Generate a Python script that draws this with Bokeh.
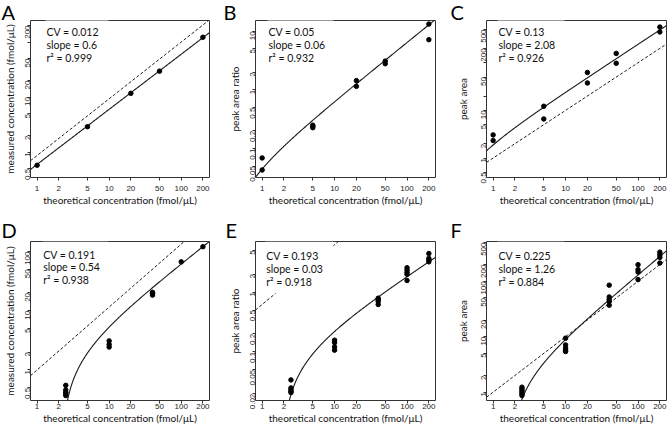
import numpy as np
from bokeh.plotting import figure
from bokeh.models import FixedTicker, Label, BoxAnnotation, Range1d
from bokeh.layouts import column, row
from bokeh.embed import file_html
from bokeh.resources import INLINE

# ---------------- data ----------------
x_ticks = [1, 2, 5, 10, 20, 50, 100, 200]
x_tick_labels = ["1", "2", "5", "10", "20", "50", "100", "200"]
x_lim = (0.81, 247)
x_title = "theoretical concentration (fmol/μL)"

# Panel A
a_x = [1, 5, 20, 50, 200]
a_y = [0.58, 2.9, 11.7, 29.6, 122]
a_ylim = (0.347, 246)
a_yticks = [0.5, 1, 2, 5, 10, 20, 50, 100, 200]
a_yticklabels = ["0.5", "1", "2", "5", "10", "20", "50", "", "200"]
a_ylabel = "measured concentration (fmol/μL)"
a_stats = ["CV = 0.012", "slope = 0.6", "r² = 0.999"]
a_fit = (0.6, 1.0, 0.0)        # scale, exponent, x where fit reaches zero
a_ref = (0.87, 1.03)           # dashed reference line: scale, exponent

# Panel B
b_x = [1, 1, 5, 5, 5, 20, 20, 50, 50, 200, 200]
b_y = [0.069, 0.043, 0.25, 0.24, 0.227, 1.44, 1.15, 3.1, 2.8, 13.3, 7.2]
b_ylim = (0.032, 15.3)
b_yticks = [0.05, 0.1, 0.2, 0.5, 1, 2, 5, 10]
b_yticklabels = ["0.05", "0.1", "0.2", "0.5", "1", "2", "5", "10"]
b_ylabel = "peak area ratio"
b_stats = ["CV = 0.05", "slope = 0.06", "r² = 0.932"]
b_fit = (0.0646, 1.0, 0.31)
b_ref = None

# Panel C
c_x = [1, 1, 5, 5, 20, 20, 50, 50, 200, 200]
c_y = [3.06, 2.33, 12.2, 6.6, 62.5, 37.6, 157, 97.5, 561, 442]
c_ylim = (0.39, 770)
c_yticks = [0.5, 1, 2, 5, 10, 20, 50, 100, 200, 500]
c_yticklabels = ["0.5", "1", "2", "5", "10", "", "50", "", "200", "500"]
c_ylabel = "peak area"
c_stats = ["CV = 0.13", "slope = 2.08", "r² = 0.926"]
c_fit = (2.44, 1.0, 0.23)
c_ref = (1.0, 1.0)

# Panel D
d_x = [2.5, 2.5, 2.5, 2.5, 2.5, 10, 10, 10, 40, 40, 40, 100, 200]
d_y = [0.55, 0.46, 0.42, 0.395, 0.37, 3.1, 2.7, 2.44, 20.5, 19.6, 18.4, 67, 121]
d_ylim = (0.305, 148)
d_yticks = [0.5, 1, 2, 5, 10, 20, 50, 100]
d_yticklabels = ["0.5", "1", "2", "5", "10", "20", "50", "100"]
d_ylabel = "measured concentration (fmol/μL)"
d_stats = ["CV = 0.191", "slope = 0.54", "r² = 0.938"]
d_fit = (0.758, 0.96, 2.21)
d_ref = (1.0, 1.063)

# Panel E
e_x = [2.5, 2.5, 2.5, 2.5, 2.5, 10, 10, 10, 10, 40, 40, 40, 40,
       100, 100, 100, 100, 100, 200, 200, 200, 200]
e_y = [0.034, 0.025, 0.0233, 0.0219, 0.0209, 0.157, 0.143, 0.121, 0.107,
       0.79, 0.75, 0.70, 0.62, 2.55, 2.33, 2.14, 1.98, 1.56, 4.4, 3.65, 3.42, 3.2]
e_ylim = (0.0154, 7.0)
e_yticks = [0.02, 0.05, 0.1, 0.2, 0.5, 1, 2, 5]
e_yticklabels = ["0.02", "0.05", "0.1", "0.2", "0.5", "1", "2", "5"]
e_ylabel = "peak area ratio"
e_stats = ["CV = 0.193", "slope = 0.03", "r² = 0.918"]
e_fit = (0.0473, 0.8, 1.9)
e_ref = (0.62, 1.0)

# Panel F
f_x = [2.5, 2.5, 2.5, 2.5, 2.5, 2.5, 10, 10, 10, 10, 10, 40, 40, 40, 40, 40,
       100, 100, 100, 100, 200, 200, 200, 200]
f_y = [1.23, 1.15, 1.07, 1.0, 0.93, 0.87, 9.4, 7.1, 6.2, 5.7, 5.4, 85, 52, 47, 43, 37,
       199, 162, 147, 107, 335, 300, 269, 213]
f_ylim = (0.707, 521)
f_yticks = [1, 2, 5, 10, 20, 50, 100, 200, 500]
f_yticklabels = ["1", "2", "5", "10", "20", "50", "100", "200", "500"]
f_ylabel = "peak area"
f_stats = ["CV = 0.225", "slope = 1.26", "r² = 0.884"]
f_fit = (0.829, 1.1, 1.74)
f_ref = (1.0, 1.0)

# ---------------- styling ----------------
LABEL_FONT = "Lato"
TICK_FONT = "Liberation Sans"
INK = "#1a1a1a"


def fit_curve(params, x0, x1):
    a, p, r = params
    xs = np.geomspace(x0, x1, 600)
    if r > 0:
        xs = np.union1d(xs, r * (1 + np.geomspace(1e-7, 0.6, 300)))
    ys = a * (xs ** p - r ** p)
    keep = ys > 0
    return xs[keep], ys[keep]


def make_panel(letter, xs, ys, ylim, yticks, yticklabels, ylabel, stats, fit, ref,
               width, height, bl, br, bt, bb, ylab_standoff, xtick_standoff,
               text_dx, text_dy, letter_dx, letter_standoff):
    p = figure(width=width, height=height, x_axis_type="log", y_axis_type="log",
               x_range=Range1d(*x_lim), y_range=Range1d(*ylim),
               output_backend="svg", toolbar_location=None,
               min_border_left=bl, min_border_right=br,
               min_border_top=bt, min_border_bottom=bb)
    p.xgrid.visible = False
    p.ygrid.visible = False
    p.outline_line_color = "#333333"
    p.outline_line_width = 1
    p.background_fill_color = "white"

    p.xaxis.ticker = FixedTicker(ticks=x_ticks, minor_ticks=[])
    p.xaxis.major_label_overrides = dict(zip(x_ticks, x_tick_labels))
    p.yaxis.ticker = FixedTicker(ticks=yticks, minor_ticks=[])
    p.yaxis.major_label_overrides = dict(zip(yticks, yticklabels))
    p.yaxis.major_label_orientation = np.pi / 2

    for ax in (p.xaxis, p.yaxis):
        ax.axis_line_color = None
        ax.major_tick_out = 3
        ax.major_tick_in = 0
        ax.minor_tick_out = 0
        ax.minor_tick_in = 0
        ax.major_tick_line_color = "#333333"
        ax.major_label_text_font = TICK_FONT
        ax.major_label_text_font_size = "8px"
        ax.major_label_text_color = "#222222"
        ax.axis_label_text_font = LABEL_FONT
        ax.axis_label_text_font_size = "10px"
        ax.axis_label_text_font_style = "normal"
        ax.axis_label_text_color = "#111111"
        ax.axis_label_standoff = 0

    p.xaxis.axis_label = x_title
    p.xaxis.major_label_standoff = xtick_standoff
    p.yaxis.axis_label = ylabel
    p.yaxis.major_label_standoff = 0
    p.yaxis.axis_label_standoff = ylab_standoff

    # dashed reference line
    if ref is not None:
        rx = np.geomspace(x_lim[0], x_lim[1], 50)
        p.line(rx, ref[0] * rx ** ref[1], line_color=INK, line_width=1, line_dash="3 2")
    # fitted curve
    fx, fy = fit_curve(fit, x_lim[0], x_lim[1])
    p.line(fx, fy, line_color=INK, line_width=1.1)
    # points
    p.scatter(xs, ys, size=4.5, fill_color="black", line_color="black")

    frame_h = height - bt - bb
    # white backing box for statistics text (frame screen coords)
    p.add_layout(BoxAnnotation(left=text_dx - 1, right=78, top=frame_h, bottom=frame_h - 52,
                               left_units="screen", right_units="screen",
                               top_units="screen", bottom_units="screen",
                               fill_color="white", fill_alpha=1.0, line_alpha=0))
    for i, s in enumerate(stats):
        p.add_layout(Label(x=text_dx, y=frame_h - text_dy - 12.8 * i,
                           x_units="screen", y_units="screen",
                           text=s, text_font=LABEL_FONT, text_font_size="10.5px",
                           text_color="#111111", text_baseline="middle"))
    # panel letter as the figure title
    p.title.text = letter
    p.title.text_font = LABEL_FONT
    p.title.text_font_size = "20px"
    p.title.text_font_style = "normal"
    p.title.text_color = "#000000"
    p.title.standoff = letter_standoff
    p.title.offset = letter_dx - bl
    return p


pa = make_panel("A", a_x, a_y, a_ylim, a_yticks, a_yticklabels, a_ylabel, a_stats, a_fit, a_ref,
                223, 213, 29, 14, 18, 36, 4, 5, 16, 13.7, 0, -6)
pb = make_panel("B", b_x, b_y, b_ylim, b_yticks, b_yticklabels, b_ylabel, b_stats, b_fit, b_ref,
                223, 213, 32, 11, 18, 36, 4, 5, 13, 13.7, 0, -6)
pc = make_panel("C", c_x, c_y, c_ylim, c_yticks, c_yticklabels, c_ylabel, c_stats, c_fit, c_ref,
                223, 213, 40, 3, 18, 36, 7, 5, 12, 13.7, 4, -6)
pd_ = make_panel("D", d_x, d_y, d_ylim, d_yticks, d_yticklabels, d_ylabel, d_stats, d_fit, d_ref,
                 223, 213, 29, 14, 28, 26, 4, 0, 12.7, 13, 0, 0)
pe = make_panel("E", e_x, e_y, e_ylim, e_yticks, e_yticklabels, e_ylabel, e_stats, e_fit, e_ref,
                223, 213, 32, 11, 28, 26, 4, 0, 10.7, 14.7, 2, 0)
pf = make_panel("F", f_x, f_y, f_ylim, f_yticks, f_yticklabels, f_ylabel, f_stats, f_fit, f_ref,
                223, 213, 40, 3, 28, 26, 7, 0, 12, 14.7, 4, 0)

layout = column(row(pa, pb, pc), row(pd_, pe, pf))
open("out.html", "w").write(file_html(layout, INLINE))
